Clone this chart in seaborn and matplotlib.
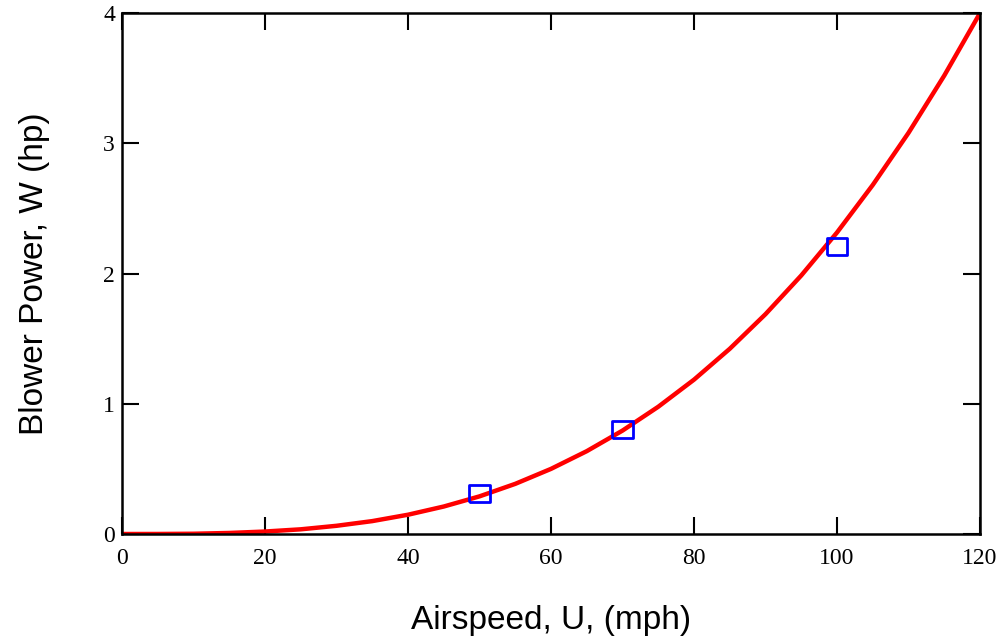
import matplotlib
matplotlib.use("Agg")
import matplotlib.pyplot as plt
import seaborn as sns

# curve (mph, hp)
speed = [0, 5, 10, 15, 20, 25, 30, 35, 40, 45, 50, 55, 60,
         65, 70, 75, 80, 85, 90, 95, 100, 105, 110, 115, 120]
power = [0.0, 0.0003, 0.002, 0.008, 0.019, 0.036, 0.063, 0.099, 0.148, 0.211, 0.289, 0.385, 0.50,
         0.636, 0.794, 0.977, 1.185, 1.422, 1.688, 1.985, 2.315, 2.68, 3.08, 3.52, 4.0]

# measured points (blue squares)
meas_speed = [50, 70, 100]
meas_power = [0.31, 0.80, 2.21]

sns.set_style("ticks")
plt.rcParams['font.family'] = ['Liberation Sans', 'DejaVu Sans']
plt.rcParams['text.color'] = 'black'
plt.rcParams['axes.labelcolor'] = 'black'

fig, ax = plt.subplots(figsize=(9.98, 6.38), dpi=100)
fig.subplots_adjust(left=0.1222, right=0.982, top=0.9796, bottom=0.163)

sns.lineplot(x=speed, y=power, color='red', linewidth=3.2, ax=ax)

rect = [(-1.2, -1), (1.2, -1), (1.2, 1), (-1.2, 1), (-1.2, -1)]
sns.scatterplot(x=meas_speed, y=meas_power, marker=rect, s=210,
                facecolor='none', edgecolor='blue', linewidth=2.0, ax=ax, zorder=3)

ax.set_xlim(0, 120)
ax.set_ylim(0, 4)
ax.set_xticks(range(0, 121, 20))
ax.set_yticks(range(0, 5))

for s in ax.spines.values():
    s.set_visible(True)
    s.set_color('black')
    s.set_linewidth(1.8)

ax.tick_params(direction='in', length=12, width=1.5, top=True, right=True,
               labelsize=17, colors='black')
ax.tick_params(axis='x', pad=10)
ax.tick_params(axis='y', pad=5)
for lab in ax.get_xticklabels() + ax.get_yticklabels():
    lab.set_family('Liberation Serif')

ax.set_xlabel("Airspeed, U, (mph)", fontsize=24, labelpad=26, color='black')
ax.set_ylabel("Blower Power, W (hp)", fontsize=24, labelpad=38, color='black')

plt.savefig("out.png", dpi=100)
